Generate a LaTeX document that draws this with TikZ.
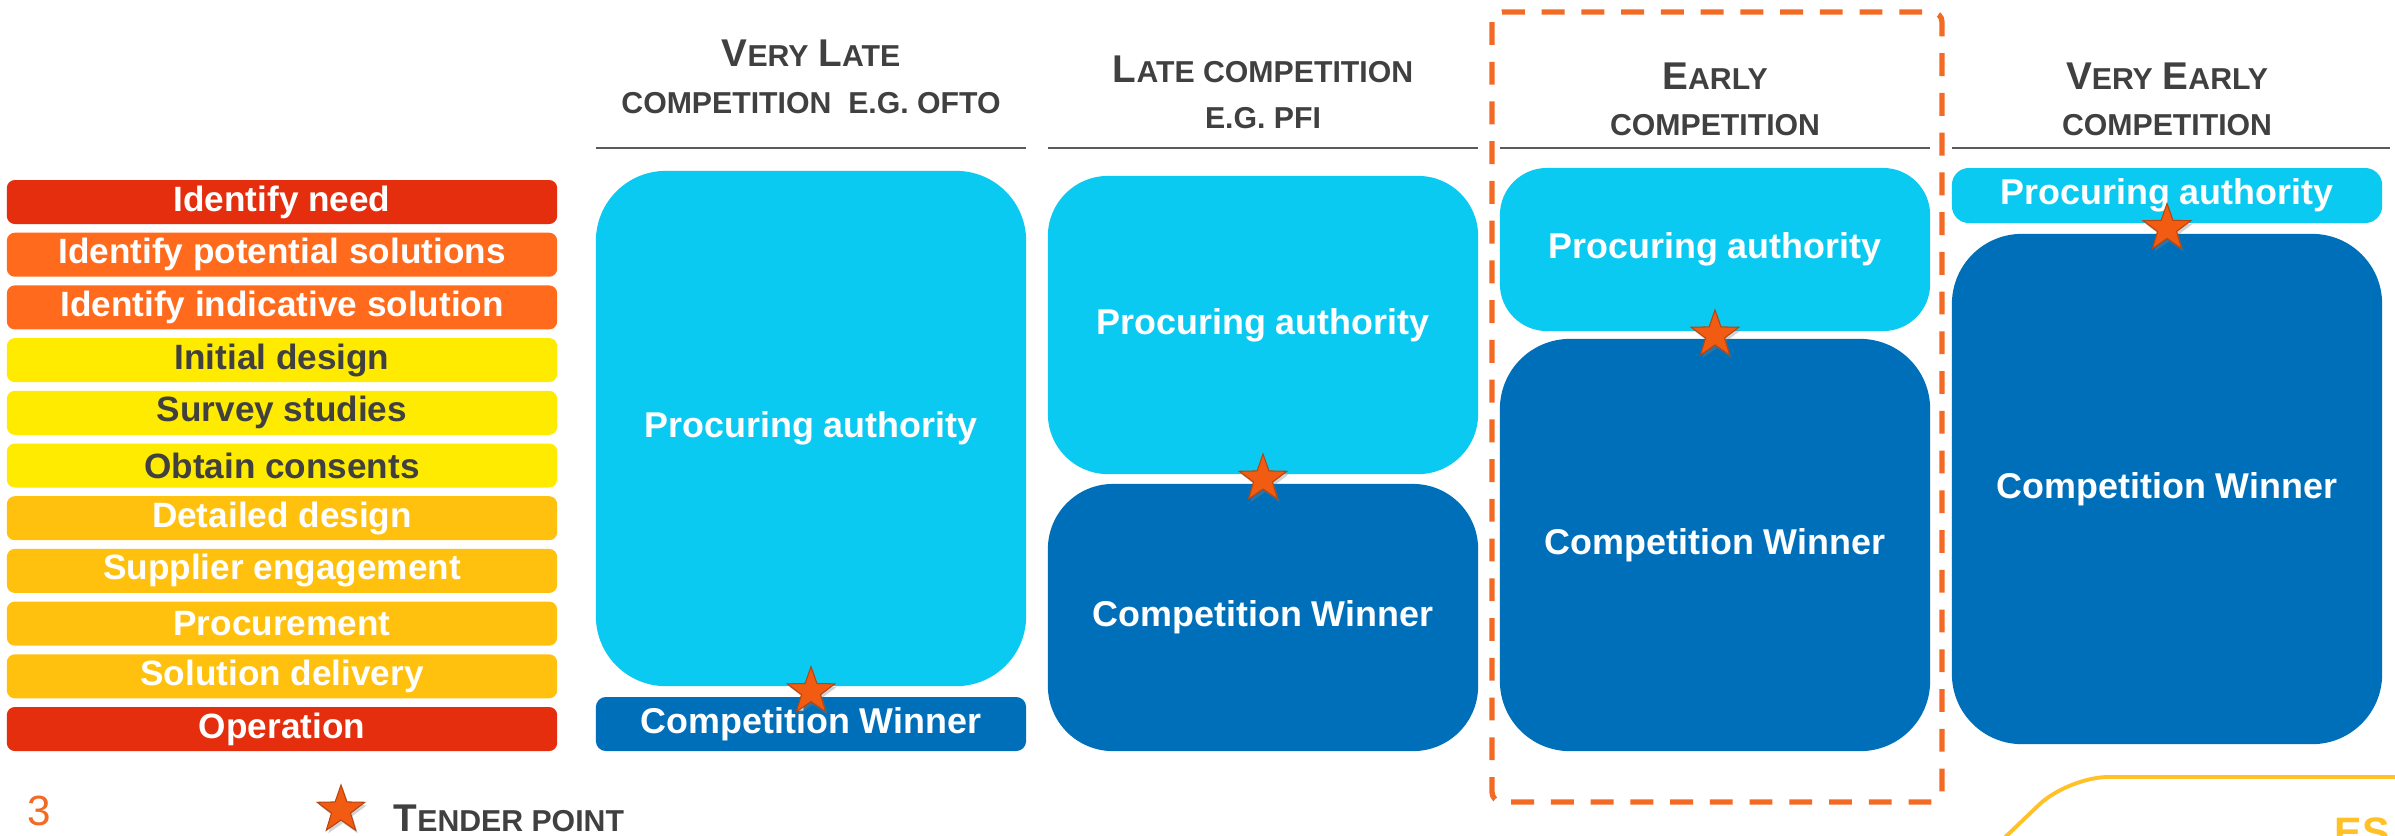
\documentclass[tikz,border=0pt]{standalone}
\usepackage{fontspec}
\setmainfont{Liberation Sans}
\usetikzlibrary{shapes.geometric,calc,shadows}
\definecolor{needred}{HTML}{E52E0E}
\definecolor{optorange}{HTML}{FF6A1C}
\definecolor{desyellow}{HTML}{FFEB00}
\definecolor{delamber}{HTML}{FFC10E}
\definecolor{palight}{HTML}{0ACAF2}
\definecolor{cwdark}{HTML}{006FBA}
\definecolor{headgrey}{HTML}{404040}
\definecolor{rulegrey}{HTML}{5A5A5A}
\definecolor{tenderorange}{HTML}{F25C12}
\definecolor{dashorange}{HTML}{F26A24}
\definecolor{logogold}{HTML}{FFC125}
\newcommand{\capword}[2]{{\fontsize{11}{13}\selectfont #1}{\fontsize{8.6}{13}\selectfont #2}}
\newcommand{\smallcap}[1]{{\fontsize{8.6}{13}\selectfont #1}}
\begin{document}
\begin{tikzpicture}[x=0.01cm,y=-0.01cm,
  stage/.style={rounded corners=0.8mm,minimum width=55mm,minimum height=4.4mm,inner sep=0pt,text=white,font=\fontsize{10}{12}\selectfont\bfseries},
  block/.style={minimum width=43mm,inner sep=0pt,text=white,font=\fontsize{10.2}{12}\selectfont\bfseries},
  head/.style={anchor=base,inner sep=0pt,text=headgrey,font=\bfseries},
  tender/.style={star,star points=5,star point ratio=2.5,minimum size=5mm,inner sep=0pt,fill=tenderorange,draw=tenderorange!75!black,line width=0.3pt,drop shadow={shadow xshift=0.2mm,shadow yshift=-0.3mm,opacity=0.35}}]
      \clip (0,0) rectangle (2395,835);
      \fill[white] (0,0) rectangle (2395,835);

      \node[stage,fill=needred] (s1) at (282,202) {Identify need};
      \node[stage,fill=optorange] (s2) at (282,254.7) {Identify potential solutions};
      \node[stage,fill=optorange] (s3) at (282,307.4) {Identify indicative solution};
      \node[stage,fill=desyellow,text=headgrey] (s4) at (282,360.1) {Initial design};
      \node[stage,fill=desyellow,text=headgrey] (s5) at (282,412.8) {Survey studies};
      \node[stage,fill=desyellow,text=headgrey] (s6) at (282,465.5) {Obtain consents};
      \node[stage,fill=delamber] (s7) at (282,518.2) {Detailed design};
      \node[stage,fill=delamber] (s8) at (282,570.9) {Supplier engagement};
      \node[stage,fill=delamber] (s9) at (282,623.6) {Procurement};
      \node[stage,fill=delamber] (s10) at (282,676.3) {Solution delivery};
      \node[stage,fill=needred] (s11) at (282,729) {Operation};

      \node[head] (hd1a) at (811,66) {\capword{V}{ERY} \capword{L}{ATE}};
      \node[head] (hd1b) at (811,113) {\smallcap{COMPETITION\ \ E.G. OFTO}};
      \node[head] (hd2a) at (1263,82) {\capword{L}{ATE COMPETITION}};
      \node[head] (hd2b) at (1263,128) {\smallcap{E.G. PFI}};
      \node[head] (hd3a) at (1715,89) {\capword{E}{ARLY}};
      \node[head] (hd3b) at (1715,135) {\smallcap{COMPETITION}};
      \node[head] (hd4a) at (2167,89) {\capword{V}{ERY} \capword{E}{ARLY}};
      \node[head] (hd4b) at (2167,135) {\smallcap{COMPETITION}};

      \draw[rulegrey,line width=0.8pt] (596,148) -- (1026,148);
      \draw[rulegrey,line width=0.8pt] (1048,148) -- (1478,148);
      \draw[rulegrey,line width=0.8pt] (1500,148) -- (1930,148);
      \draw[rulegrey,line width=0.8pt] (1952,148) -- (2390,148);

      \node[block,fill=palight,minimum height=51.5mm,rounded corners=7mm] (pa1) at (811,428.5) {Procuring authority};
      \node[block,fill=cwdark,minimum height=5.4mm,rounded corners=1mm] (cw1) at (811,724) {Competition Winner};
      \node[block,fill=palight,minimum height=29.8mm,rounded corners=6mm] (pa2) at (1263,325) {Procuring authority};
      \node[block,fill=cwdark,minimum height=26.7mm,rounded corners=6.5mm] (cw2) at (1263,617.5) {Competition Winner};
      \node[block,fill=palight,minimum height=16.3mm,rounded corners=4.7mm] (pa3) at (1715,249.5) {Procuring authority};
      \node[block,fill=cwdark,minimum height=41.2mm,rounded corners=7mm] (cw3) at (1715,545) {Competition Winner};
      \node[block,fill=palight,minimum height=5.5mm,rounded corners=1.7mm] (pa4) at (2167,195.5) {Procuring authority};
      \node[block,fill=cwdark,minimum height=51mm,rounded corners=7mm] (cw4) at (2167,489) {Competition Winner};

      \node[tender] (t1) at ($(pa1.south)!0.5!(cw1.north)$) {};
      \node[tender] (t2) at ($(pa2.south)!0.5!(cw2.north)$) {};
      \node[tender] (t3) at ($(pa3.south)!0.5!(cw3.north)$) {};
      \node[tender] (t4) at ($(pa4.south)!0.5!(cw4.north)$) {};

      \draw[dashorange,line width=1.5pt,dash pattern=on 6.5pt off 4.8pt,rounded corners=1mm] (1492,12) rectangle (1942,802);

      \node[text=dashorange,font=\fontsize{12}{14}\selectfont,anchor=base,inner sep=0pt] (pagenum) at (39,825) {3};
      \node[tender] (tkey) at (341,810) {};
      \node[head,anchor=base west] (tkeytext) at (393,831) {\capword{T}{ENDER POINT}};

      \draw[logogold,line width=1.1pt,rounded corners=4mm] (1999,843) -- (2068,777) -- (2410,777);
      \node[text=logogold,font=\fontsize{11.7}{14}\selectfont\bfseries,anchor=base west,inner sep=0pt] (logo) at (2334,846) {ES};
\end{tikzpicture}
\end{document}
